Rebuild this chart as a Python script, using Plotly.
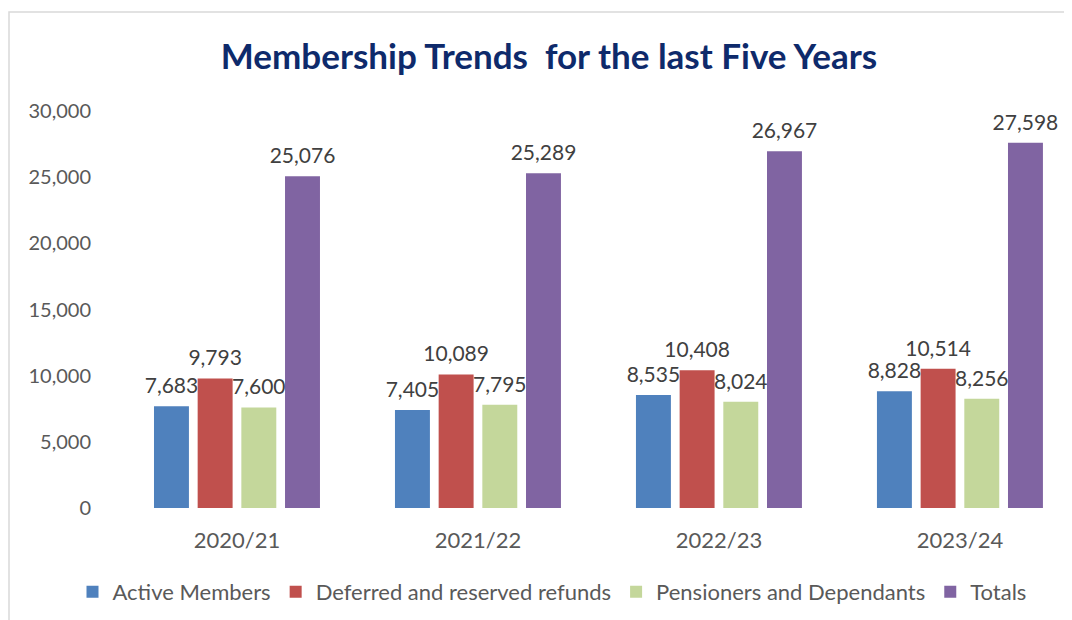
import plotly.graph_objects as go

years = ["2020/21", "2021/22", "2022/23", "2023/24"]
active = [7683, 7405, 8535, 8828]
deferred = [9793, 10089, 10408, 10514]
pensioners = [7600, 7795, 8024, 8256]
totals = [25076, 25289, 26967, 27598]

series = [
    ("Active Members", active, "#4F81BD"),
    ("Deferred and reserved refunds", deferred, "#C0504D"),
    ("Pensioners and Dependants", pensioners, "#C4D79B"),
    ("Totals", totals, "#8064A2"),
]

# page is rendered with an 8px body margin; work in page pixels and convert
O = 8
W, H = 1072 - O, 620 - O
L = 116 - O
T = 111 - O
B = H - (508 - O)
R = 0
pw, ph = W - L - R, H - T - B

def px_x(p):  # page pixel -> paper x
    return (p - O - L) / pw

def px_y(p):  # page pixel -> paper y
    return (H - B - (p - O)) / ph

GAP = 0.275

fig = go.Figure()
for i, (name, vals, col) in enumerate(series):
    fig.add_trace(go.Bar(
        x=years, y=vals, name=name,
        marker=dict(color=col, line=dict(width=0)),
        offsetgroup=str(i),
    ))
# value labels, grouped like the bars
for i, (name, vals, col) in enumerate(series):
    fig.add_trace(go.Scatter(
        x=years, y=vals, mode="markers+text",
        text=[f"{v:,}" for v in vals],
        textposition="top center",
        marker=dict(size=11, color="rgba(0,0,0,0)"),
        textfont=dict(family="Lato, Open Sans, sans-serif", size=21, color="#404040"),
        offsetgroup=str(i), showlegend=False, hoverinfo="skip", cliponaxis=False,
    ))

fig.add_shape(type="rect", xref="paper", yref="paper",
              x0=px_x(O + 1), x1=px_x(1100), y0=px_y(660), y1=px_y(12),
              line=dict(color="#D9D9D9", width=1.5), fillcolor="rgba(0,0,0,0)", layer="below")

fig.update_layout(
    width=W, height=H,
    margin=dict(l=L, r=R, t=T, b=B),
    paper_bgcolor="white", plot_bgcolor="white",
    barmode="group", bargap=GAP, bargroupgap=0.2,
    scattermode="group", scattergap=GAP,
    title=dict(text="<b>Membership Trends  for the last Five Years</b>",
               x=(549 - O) / W, xanchor="center", xref="container",
               y=1 - (57 - O) / H, yanchor="middle", yref="container",
               font=dict(family="Lato, Open Sans, sans-serif", size=35, color="#0E2A6B")),
    font=dict(family="Lato, Open Sans, sans-serif", color="#595959"),
    xaxis=dict(range=[-0.502, 3.465], showgrid=False, showline=False, zeroline=False,
               ticks="outside", ticklen=13, tickcolor="rgba(0,0,0,0)",
               tickfont=dict(size=22, color="#595959")),
    yaxis=dict(range=[0, 30000], tickvals=[0, 5000, 10000, 15000, 20000, 25000, 30000],
               tickformat=",", showgrid=False, showline=False, zeroline=False,
               ticks="outside", ticklen=20, tickcolor="rgba(0,0,0,0)",
               tickfont=dict(size=20, color="#595959")),
    legend=dict(orientation="h", x=px_x(552), xanchor="center", y=px_y(592), yanchor="middle",
                font=dict(size=22, color="#595959"), itemwidth=30, traceorder="normal",
                bgcolor="rgba(0,0,0,0)"),
    showlegend=True,
)

fig.write_html("out.html")
